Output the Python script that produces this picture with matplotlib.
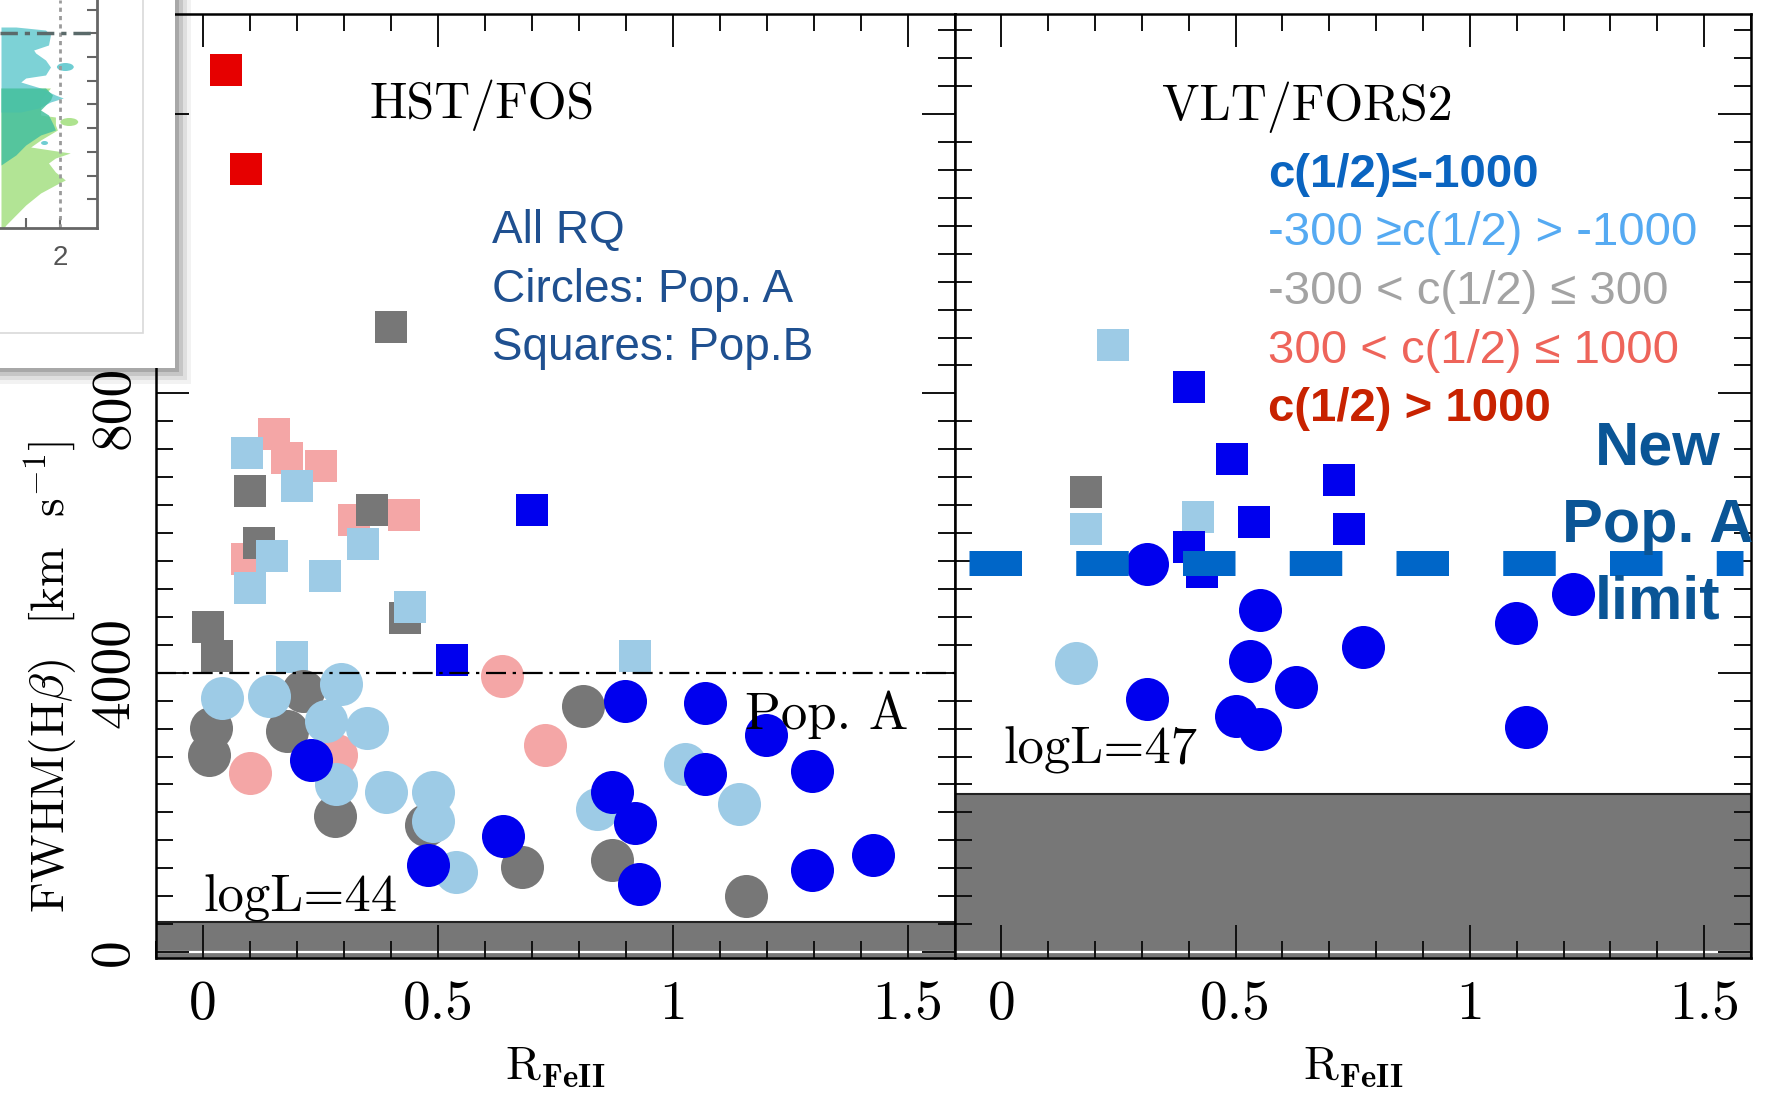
import matplotlib
matplotlib.use("Agg")
import matplotlib.pyplot as plt
from matplotlib.patches import Rectangle, Ellipse
from matplotlib.ticker import MultipleLocator

plt.rcParams['mathtext.fontset'] = 'cm'
plt.rcParams['axes.formatter.use_mathtext'] = True

# ---- data: R_FeII vs FWHM(Hb), colour = c(1/2) class ----
# HST/FOS, logL=44 ; squares = Pop. B, circles = Pop. A
hst_sq = {
    'pink': ([0.152, 0.179, 0.251, 0.427, 0.321, 0.094],
             [7418, 7078, 6957, 6253, 6188, 5626]),
    'gray': ([0.400, 0.100, 0.359, 0.119, 0.011, 0.029, 0.430],
             [8956, 6609, 6324, 5864, 4656, 4245, 4779]),
    'lblue': ([0.094, 0.201, 0.340, 0.148, 0.260, 0.100, 0.189, 0.441, 0.919],
              [7151, 6673, 5848, 5675, 5383, 5216, 4229, 4948, 4245]),
    'blue': ([0.530, 0.700], [4180, 6334]),
    'red': ([0.050, 0.092], [12630, 11210]),
}
hst_ci = {
    'pink': ([0.100, 0.284, 0.637, 0.729], [2561, 2820, 3960, 2966]),
    'gray': ([0.214, 0.018, 0.013, 0.179, 0.281, 0.474, 0.680, 0.809, 0.870, 1.157],
             [3743, 3209, 2820, 3170, 1946, 1825, 1217, 3520, 1315, 806]),
    'lblue': ([0.040, 0.140, 0.294, 0.262, 0.349, 0.284, 0.389, 0.490, 0.490, 0.539, 1.027, 0.838, 1.142],
              [3640, 3665, 3840, 3306, 3209, 2406, 2286, 2286, 1873, 1153, 2699, 2043, 2114]),
    'blue': ([0.230, 0.479, 0.639, 0.898, 1.068, 1.198, 1.068, 1.297, 0.870, 0.919, 0.928, 1.297, 1.427],
             [2744, 1243, 1655, 3597, 3567, 3112, 2552, 2598, 2286, 1849, 978, 1169, 1389]),
}
# VLT/FORS2, logL=47
vlt_sq = {
    'gray': ([0.180], [6588]),
    'lblue': ([0.239, 0.180, 0.419], [8697, 6061, 6230]),
    'blue': ([0.400, 0.492, 0.720, 0.540, 0.741, 0.400, 0.429],
             [8098, 7065, 6754, 6157, 6061, 5799, 5437]),
}
vlt_ci = {
    'lblue': ([0.160], [4136]),
    'blue': ([0.310, 0.551, 0.531, 0.629, 0.771, 0.310, 0.500, 0.551, 1.099, 1.220, 1.120],
             [5561, 4893, 4175, 3792, 4366, 3625, 3387, 3196, 4710, 5131, 3219]),
}
colors = {'pink': '#f4a6a6', 'gray': '#777777', 'lblue': '#9dcbe6',
          'blue': '#0000ee', 'red': '#e60000'}
order = ['pink', 'gray', 'lblue', 'blue', 'red']

pop_ab_limit = 4000
new_limit = 5570
new_limit_x = [-0.068, 1.583]
excluded_top = [425, 2270]   # grey band top, left / right panel

legend_txt = ['c(1/2)≤-1000', '-300 ≥c(1/2) > -1000', '-300 < c(1/2) ≤ 300',
              '300 < c(1/2) ≤ 1000', 'c(1/2) > 1000']
legend_col = ['#0a64c0', '#55aaf2', '#a3a3a3', '#ee645a', '#c82200']
legend_bold = [True, False, False, False, True]

# piece of another figure overlapping the top-left corner (pixel units)
blob_lgreen_y = [88, 100, 115, 117, 125, 130, 140, 147, 153, 158, 163, 172, 180, 185, 193, 205, 215, 225, 232]
blob_lgreen_x = [50, 40, 40, 55, 55, 57, 40, 30, 70, 55, 48, 55, 65, 55, 40, 25, 15, 5, 0]
blob_teal_y = [27, 30, 35, 45, 50, 53, 60, 67, 75, 78, 82, 88, 95, 98, 102, 108, 112]
blob_teal_x = [15, 45, 50, 48, 33, 35, 45, 50, 45, 25, 20, 40, 55, 63, 50, 38, 20]
blob_green_y = [88, 95, 100, 110, 115, 125, 130, 135, 145, 155, 165]
blob_green_x = [45, 52, 50, 40, 48, 53, 55, 40, 25, 15, 0]
inset_yticks = [10, 33, 57, 81, 104, 128, 152, 176, 199]

# ---- figure ----
W, H = 1771, 1097
fig = plt.figure(figsize=(W / 100, H / 100), dpi=100)
fig.patch.set_facecolor('white')

L0, R0, T0, B0 = 156, 954.5, 13.5, 958
R1 = 1751
axL = fig.add_axes([L0 / W, 1 - B0 / H, (R0 - L0) / W, (B0 - T0) / H])
axR = fig.add_axes([R0 / W, 1 - B0 / H, (R1 - R0) / W, (B0 - T0) / H])

serif = 'cmr10'
for ax, sq, ci, band in [(axL, hst_sq, hst_ci, excluded_top[0]),
                         (axR, vlt_sq, vlt_ci, excluded_top[1])]:
    ax.set_xlim(-0.1, 1.6)
    ax.set_ylim(-85, 13440)
    ax.axhspan(-200, band, facecolor='#777777', edgecolor='#222222', lw=1.5, zorder=1)
    ax.axhline(0, color='white', lw=1.6, zorder=1.5)
    for k in order:
        if k in sq:
            ax.scatter(sq[k][0], sq[k][1], marker='s', s=500, c=colors[k],
                       linewidths=0, zorder=3)
    for k in order:
        if k in ci:
            ax.scatter(ci[k][0], ci[k][1], marker='o', s=960, c=colors[k],
                       linewidths=0, zorder=3)
    ax.xaxis.set_major_locator(MultipleLocator(0.5))
    ax.xaxis.set_minor_locator(MultipleLocator(0.1))
    ax.yaxis.set_major_locator(MultipleLocator(4000))
    ax.yaxis.set_minor_locator(MultipleLocator(400))
    ax.tick_params(which='both', direction='in', top=True, right=True,
                   width=1.4, color='#111111')
    ax.tick_params(which='major', length=24)
    ax.tick_params(which='minor', length=12)
    ax.tick_params(axis='x', pad=16)
    ax.set_xticks([0, 0.5, 1, 1.5])
    ax.set_xticklabels(['0', '0.5', '1', '1.5'], fontfamily=serif, fontsize=40)
    for sp in ax.spines.values():
        sp.set_linewidth(1.8)
    ax.text(0.5, -0.129, r'R$_{\mathbf{FeII}}$', transform=ax.transAxes,
            ha='center', va='baseline', fontfamily=serif, fontsize=34)

axL.set_yticks([0, 4000, 8000, 12000])
axL.set_yticklabels(['0', '4000', '8000', '12000'], fontfamily=serif,
                    fontsize=40, rotation=90, va='center')
axL.tick_params(axis='y', pad=12)
axR.tick_params(axis='y', left=False, labelleft=False)

axL.axhline(pop_ab_limit, color='black', lw=1.6, ls=(0, (9, 3, 1.5, 3)), zorder=4)

axL.text(-0.131, 0.298, r'FWHM(H$\beta$)  [km  s$^{-1}$]', transform=axL.transAxes,
         rotation=90, ha='center', va='center', fontfamily=serif, fontsize=34)

axL.text(0.408, 0.889, 'HST/FOS', transform=axL.transAxes, ha='center',
         va='baseline', fontfamily=serif, fontsize=36)
axR.text(0.443, 0.887, 'VLT/FORS2', transform=axR.transAxes, ha='center',
         va='baseline', fontfamily=serif, fontsize=36)
axL.text(0.059, 0.049, 'logL=44', transform=axL.transAxes, va='baseline',
         fontfamily=serif, fontsize=38, zorder=5)
axR.text(0.061, 0.206, 'logL=47', transform=axR.transAxes, va='baseline',
         fontfamily=serif, fontsize=38, zorder=5)
axL.text(0.738, 0.242, 'Pop. A', transform=axL.transAxes, va='baseline',
         fontfamily=serif, fontsize=38, zorder=5)

sans = ['Liberation Sans', 'DejaVu Sans']
for txt, yy in zip(['All RQ', 'Circles: Pop. A', 'Squares: Pop.B'],
                   [0.7567, 0.6949, 0.6331]):
    axL.text(0.4214, yy, txt, transform=axL.transAxes, va='baseline',
             color='#1f5090', fontfamily=sans, fontsize=33, zorder=5)

for txt, col, bold, yy in zip(legend_txt, legend_col, legend_bold,
                              [0.816, 0.755, 0.6924, 0.6296, 0.5689]):
    axR.text(0.394, yy, txt, transform=axR.transAxes, va='baseline', color=col,
             fontfamily=sans, fontsize=34, fontweight='bold' if bold else 'normal',
             zorder=5)

axR.plot(new_limit_x, [new_limit, new_limit], color='#0066c8', lw=18,
         dashes=(2.1, 2.17), solid_capstyle='butt', dash_capstyle='butt',
         zorder=6, clip_on=False)
for txt, yy in zip(['New', 'Pop. A', 'limit'], [0.522, 0.4408, 0.3597]):
    axR.text(0.883, yy, txt, transform=axR.transAxes, ha='center', va='baseline',
             color='#0a5596', fontfamily=sans, fontsize=44, fontweight='bold',
             zorder=7)

# ---- overlapping thumbnail in the top-left corner ----
def fr(x, y, w, h):
    return (x / W, 1 - (y + h) / H), w / W, h / H

for i, a in enumerate([0.05, 0.08, 0.11, 0.15]):
    d = 16 - 4 * i
    (x, y), w, h = fr(0, 0, 175 + d, 368 + d)
    fig.patches.append(Rectangle((x, y), w, h, transform=fig.transFigure,
                                 facecolor='black', alpha=a, lw=0, zorder=1))
(x, y), w, h = fr(0, 0, 175, 368)
fig.patches.append(Rectangle((x, y), w, h, transform=fig.transFigure,
                             facecolor='white', lw=0, zorder=1))
(x, y), w, h = fr(-2, -2, 145, 335)
fig.patches.append(Rectangle((x, y), w, h, transform=fig.transFigure,
                             facecolor='none', edgecolor='#d9d9d9', lw=1.2, zorder=1))

ins = fig.add_axes([0, 1 - 228 / H, 97 / W, 228 / H])
ins.set_zorder(5)
ins.patch.set_alpha(0)
ins.set_xlim(-1, 97)
ins.set_ylim(228, 0)
ins.fill_betweenx(blob_lgreen_y, 0, blob_lgreen_x, color='#aee38f', lw=0, alpha=0.95)
ins.fill_betweenx(blob_teal_y, 0, blob_teal_x, color='#6fcdd2', lw=0, alpha=0.9)
ins.fill_betweenx(blob_green_y, 0, blob_green_x, color='#45c09f', lw=0, alpha=0.85)
ins.add_patch(Ellipse((65, 67), 17, 8, color='#6fcdd2', lw=0))
ins.add_patch(Ellipse((69, 122), 18, 8, color='#aee38f', lw=0))
ins.add_patch(Ellipse((44, 143), 7, 4, color='#6fcdd2', lw=0))
ins.axvline(60, color='#9a9a9a', lw=2, ls=(0, (1.5, 1.5)))
ins.axhline(33, color='#5a6a6a', lw=2.5, ls=(0, (5, 2, 1.5, 2)))
for s in ['left', 'top']:
    ins.spines[s].set_visible(False)
for s in ['right', 'bottom']:
    ins.spines[s].set_color('#666666')
    ins.spines[s].set_linewidth(2)
ins.yaxis.tick_right()
ins.set_yticks(inset_yticks)
ins.set_yticklabels([])
ins.set_xticks([25, 60])
ins.set_xticklabels(['', '2'], color='#555555', fontfamily=sans, fontsize=20)
ins.tick_params(direction='in', length=7, width=1.5, color='#666666', pad=12)

fig.savefig('out.png', dpi=100)
